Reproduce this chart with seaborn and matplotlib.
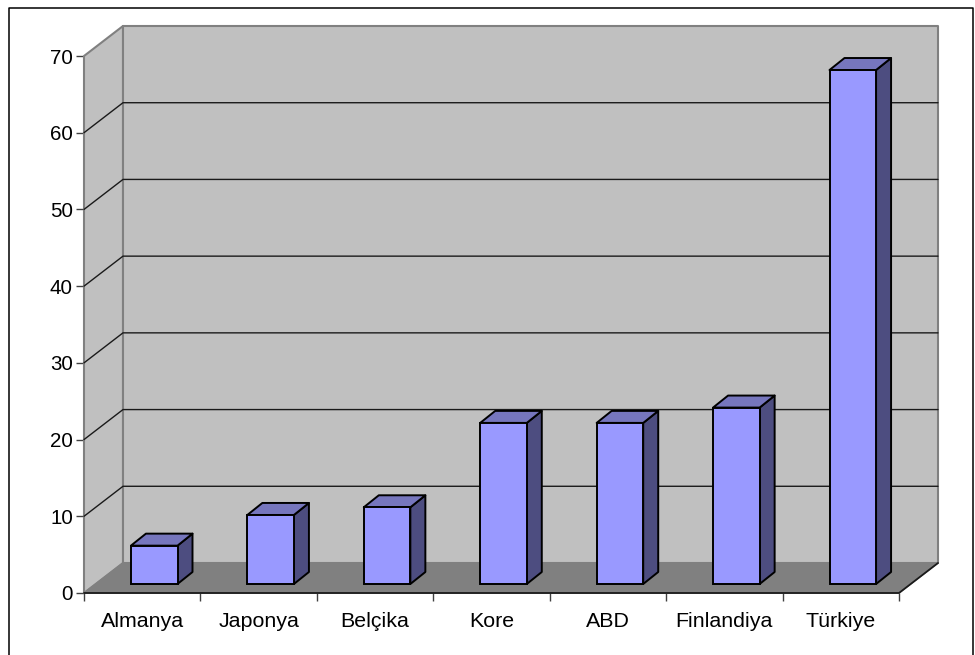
import matplotlib
matplotlib.use("Agg")
import matplotlib.pyplot as plt
import numpy as np
import seaborn as sns
from matplotlib.patches import Polygon, Rectangle
from matplotlib.lines import Line2D
from matplotlib.transforms import Affine2D

countries = ["Almanya", "Japonya", "Belçika", "Kore", "ABD", "Finlandiya", "Türkiye"]
values = [5, 9, 10, 21, 21, 23, 67]
y_ticks = [0, 10, 20, 30, 40, 50, 60, 70]

W, H = 975, 655
WALL_DX, WALL_DY = 39, 30
BAR_DX, BAR_DY = 12, 9
SIDE_DX, SIDE_DY = 15, 12

sns.set_style("white")
plt.rcParams["font.family"] = ["Liberation Sans", "DejaVu Sans"]

fig = plt.figure(figsize=(W / 100, H / 100), dpi=100)
ax = fig.add_axes([84 / W, (H - 593) / H, 815 / W, 537 / H])
ax.patch.set_visible(False)

sns.barplot(x=countries, y=values, color="#9999FF", saturation=1, width=0.4,
            edgecolor="black", linewidth=1.4, ax=ax, zorder=5)
ax.set_xlim(-0.5, 6.5)
ax.set_ylim(0, 70)
sns.despine(ax=ax, left=True, bottom=True, top=True, right=True)


def px(x, y, dx=0, dy=0):
    # data position to screen pixels, shifted for the fake depth
    p = ax.transData.transform((x, y))
    return (p[0] + dx, p[1] + dy)


def face(points, color, edge, lw=1.4, z=2):
    ax.add_patch(Polygon(points, closed=True, facecolor=color, edgecolor=edge, linewidth=lw,
                         transform=None, clip_on=False, zorder=z, joinstyle="round"))


def line(points, color, lw=1.0, z=3):
    xs, ys = zip(*points)
    ax.add_line(Line2D(xs, ys, color=color, linewidth=lw, transform=None, clip_on=False, zorder=z))


# walls and floor
x0, x1 = ax.get_xlim()
face([px(x0, 0), px(x0, 70), px(x0, 70, WALL_DX, WALL_DY), px(x0, 0, WALL_DX, WALL_DY)], "#C0C0C0", "#808080", 1.5)
face([px(x0, 0, WALL_DX, WALL_DY), px(x0, 70, WALL_DX, WALL_DY), px(x1, 70, WALL_DX, WALL_DY), px(x1, 0, WALL_DX, WALL_DY)],
     "#C0C0C0", "#808080", 1.5)
face([px(x0, 0), px(x0, 0, WALL_DX, WALL_DY), px(x1, 0, WALL_DX, WALL_DY), px(x1, 0)], "#808080", "#808080", 1)

# gridlines on both walls
for v in y_ticks[1:-1]:
    line([px(x0, v), px(x0, v, WALL_DX, WALL_DY), px(x1, v, WALL_DX, WALL_DY)], "#1a1a1a", 1.0)

# front edge of the floor
line([px(x0, 0), px(x1, 0), px(x1, 0, WALL_DX, WALL_DY)], "#1a1a1a", 1.3, z=4)

# shift the seaborn bars onto the floor, then add their depth faces
offset = ax.transData + Affine2D().translate(BAR_DX, BAR_DY)
for bar in ax.patches:
    if not isinstance(bar, Rectangle):
        continue
    bx0, bx1, h = bar.get_x(), bar.get_x() + bar.get_width(), bar.get_height()
    bar.set_transform(offset)
    bar.set_clip_on(False)
    bar.set_joinstyle("miter")
    a = BAR_DX
    b = BAR_DY
    face([px(bx1, 0, a, b), px(bx1, h, a, b), px(bx1, h, a + SIDE_DX, b + SIDE_DY), px(bx1, 0, a + SIDE_DX, b + SIDE_DY)],
         "#4D4D80", "black", 1.4, z=4.5)
    face([px(bx0, h, a, b), px(bx1, h, a, b), px(bx1, h, a + SIDE_DX, b + SIDE_DY), px(bx0, h, a + SIDE_DX, b + SIDE_DY)],
         "#7676BD", "black", 1.4, z=4.5)

# axis ticks and labels
ax.set_yticks(y_ticks)
ax.set_xticks(np.arange(len(countries)))
ax.set_xticklabels(countries)
ax.set_xticks(np.arange(x0, x1 + 0.5), minor=True)
ax.tick_params(axis="y", left=True, length=6, width=1, color="#404040", labelsize=14.8, pad=2, labelcolor="black")
ax.tick_params(axis="x", which="major", bottom=False, length=0, labelsize=15.4, pad=13.5, labelcolor="black")
ax.tick_params(axis="x", which="minor", bottom=True, length=6, width=1, color="#404040")
ax.grid(False)

# outer chart frame, open at the bottom
top = (H - 7.5) / H
fig.add_artist(Line2D([9 / W, 9 / W, 973 / W, 973 / W], [0, top, top, 0], color="black", linewidth=1.1))

fig.savefig("out.png", dpi=100)
